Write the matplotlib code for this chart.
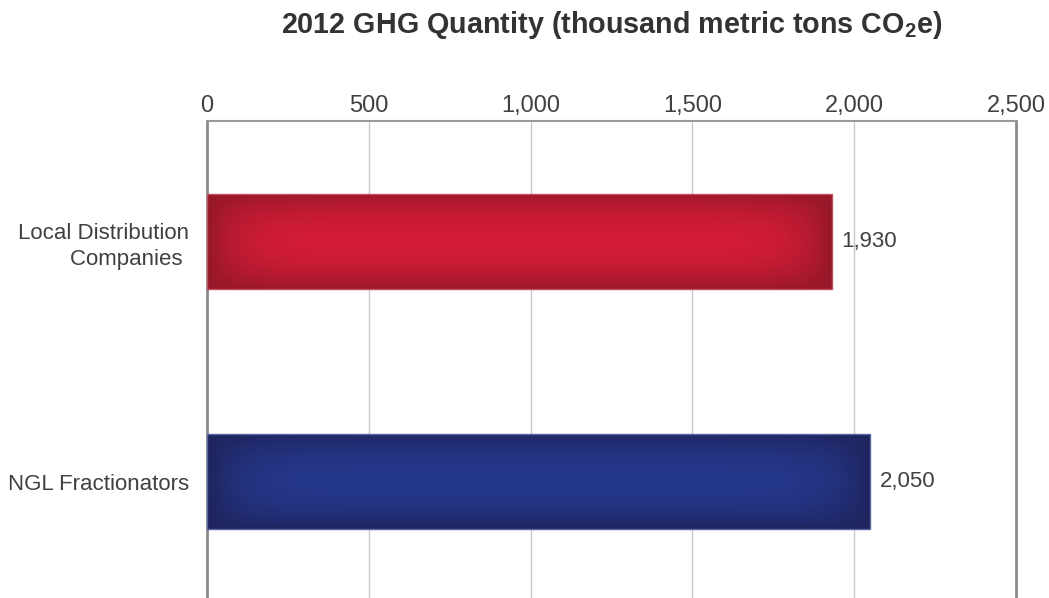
import numpy as np
import matplotlib
matplotlib.use('Agg')
import matplotlib.pyplot as plt

categories = ['Local Distribution\nCompanies ', 'NGL Fractionators']
values = [1930, 2050]
value_labels = ['1,930', '2,050']
xticks = [0, 500, 1000, 1500, 2000, 2500]
xtick_labels = ['0', '500', '1,000', '1,500', '2,000', '2,500']

# centre colour, edge colour, outline
bar_styles = [((212, 28, 56), (148, 24, 40), '#c0505e'),
              ((38, 56, 140), (30, 36, 92), '#5a66a0')]

plt.rcParams['font.family'] = ['Liberation Sans', 'DejaVu Sans']
plt.rcParams['mathtext.default'] = 'regular'

fig = plt.figure(figsize=(10.49, 5.98), dpi=100)
ax = fig.add_axes([207/1049, 0, (1016-207)/1049, 1 - 121/598])

bar_h = 0.396
ys = np.arange(len(categories))


def gradient(c0, c1, nx=400, ny=80):
    u = np.linspace(-1, 1, nx)[None, :]
    v = np.linspace(-1, 1, ny)[:, None]
    t = 1 - (1 - 0.85 * v**2) * (1 - np.abs(u)**10)
    t = np.clip(t, 0, 1)[..., None]
    img = (np.array(c0) * (1 - t) + np.array(c1) * t) / 255.0
    return img


for y, val, (c0, c1, ec) in zip(ys, values, bar_styles):
    bars = ax.barh(y, val, height=bar_h, color='none', edgecolor=ec,
                   linewidth=1, zorder=4)
    im = ax.imshow(gradient(c0, c1), extent=[0, val, y + bar_h/2, y - bar_h/2],
                   aspect='auto', zorder=3, interpolation='bilinear')
    im.set_clip_path(bars[0])

for y, val, lab in zip(ys, values, value_labels):
    ax.text(val + 30, y, lab, va='center', ha='left', fontsize=16,
            color='#404040')

ax.set_xlim(0, 2500)
ax.set_ylim(1.485, -0.502)
ax.set_xticks(xticks)
ax.set_xticklabels(xtick_labels)
ax.xaxis.tick_top()
ax.tick_params(axis='x', length=0, pad=3, labelsize=17, labelcolor='#404040')
ax.set_yticks(ys)
ax.set_yticklabels(categories, fontsize=16, color='#404040', ha='right',
                   multialignment='right', linespacing=1.3)
ax.tick_params(axis='y', length=0, pad=13)

for x in xticks[1:-1]:
    ax.axvline(x, color='#c8c8c8', lw=1, zorder=1)
ax.axvline(2500, color='#8a8a8a', lw=2, zorder=1, clip_on=False)

for s in ['bottom', 'right']:
    ax.spines[s].set_visible(False)
ax.spines['left'].set_color('#8a8a8a')
ax.spines['left'].set_linewidth(2)
ax.spines['top'].set_color('#999999')
ax.spines['top'].set_linewidth(1.5)

fig.text(612/1049, 1 - 25/598, '2012 GHG Quantity (thousand metric tons CO$_2$e)',
         ha='center', va='center', fontsize=20.7, fontweight='bold',
         color='#333333')

fig.savefig('out.png', dpi=100)
